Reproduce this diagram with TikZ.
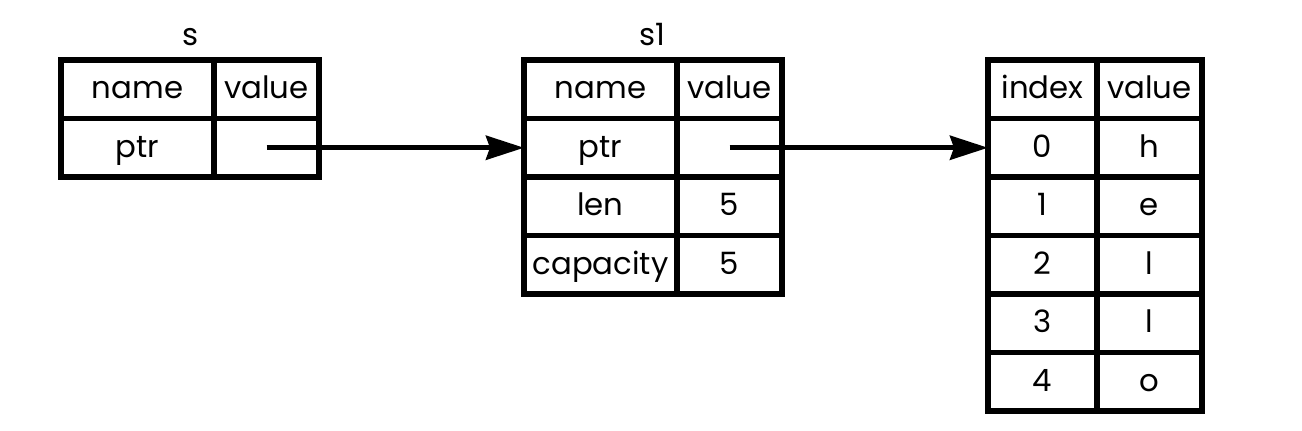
\documentclass[tikz,border=0pt]{standalone}
\usepackage{fontspec}
\setmainfont{Poppins}
\usepackage{tikz}
\usetikzlibrary{positioning,arrows.meta}

\begin{document}
\begin{tikzpicture}[
    cell/.style={rectangle, draw=black, line width=0.105cm, outer sep=0pt,
                 inner sep=0pt, minimum height=1.17cm, text height=1.1em, text depth=0pt,
                 align=center, font=\fontsize{17.5}{20}\selectfont},
    namecell/.style={cell, minimum width=3.06cm},
    valcell/.style={cell, minimum width=2.1cm},
    idxcell/.style={cell, minimum width=2.18cm},
    tag/.style={anchor=base, font=\fontsize{17.5}{20}\selectfont},
    ptrarrow/.style={-{Stealth[length=0.76cm, width=0.48cm, inset=0.08cm]}, line width=0.1cm}
]
    \useasboundingbox (0,0) rectangle (26.04,-8.6);

    % s on the stack
    \node[namecell, anchor=north west] (s-name) at (1.22,-1.2) {name};
    \node[valcell, right=0pt of s-name] (s-value) {value};
    \node[namecell, below=0pt of s-name] (s-ptr) {ptr};
    \node[valcell, right=0pt of s-ptr] (s-ptrval) {};
    \node[tag] (s-tag) at (3.81,-0.91) {s};

    % s1
    \node[namecell, anchor=north west] (s1-name) at (10.48,-1.2) {name};
    \node[valcell, right=0pt of s1-name] (s1-value) {value};
    \node[namecell, below=0pt of s1-name] (s1-ptr) {ptr};
    \node[valcell, right=0pt of s1-ptr] (s1-ptrval) {};
    \node[namecell, below=0pt of s1-ptr] (s1-len) {len};
    \node[valcell, right=0pt of s1-len] (s1-lenval) {5};
    \node[namecell, below=0pt of s1-len] (s1-cap) {capacity};
    \node[valcell, right=0pt of s1-cap] (s1-capval) {5};
    \node[tag] (s1-tag) at (13.04,-0.91) {s1};

    % heap
    \node[idxcell, anchor=north west] (h-index) at (19.76,-1.2) {index};
    \node[valcell, right=0pt of h-index] (h-value) {value};
    \node[idxcell, below=0pt of h-index] (h-0) {0};
    \node[valcell, right=0pt of h-0] (h-0v) {h};
    \node[idxcell, below=0pt of h-0] (h-1) {1};
    \node[valcell, right=0pt of h-1] (h-1v) {e};
    \node[idxcell, below=0pt of h-1] (h-2) {2};
    \node[valcell, right=0pt of h-2] (h-2v) {l};
    \node[idxcell, below=0pt of h-2] (h-3) {3};
    \node[valcell, right=0pt of h-3] (h-3v) {l};
    \node[idxcell, below=0pt of h-3] (h-4) {4};
    \node[valcell, right=0pt of h-4] (h-4v) {o};

    \draw[ptrarrow] (s-ptrval.center) -- (s1-ptr.west);
    \draw[ptrarrow] (s1-ptrval.center) -- (h-0.west);
\end{tikzpicture}
\end{document}
